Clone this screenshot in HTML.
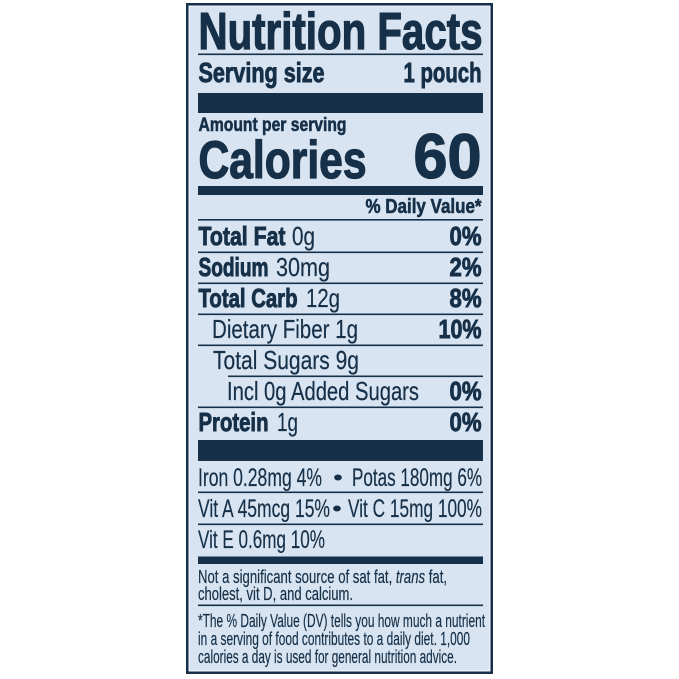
<!DOCTYPE html>
<html>
<head>
<meta charset="utf-8">
<style>
html,body{margin:0;padding:0;background:#ffffff;}
svg{display:block;}
text{font-family:"Liberation Sans",Arial,sans-serif;fill:#163049;}
.b{font-weight:bold;stroke:#163049;stroke-width:0.6;}
.b2{font-weight:bold;stroke:#163049;stroke-width:1.3;}
.b3{font-weight:bold;stroke:#163049;stroke-width:0.9;}
.r{stroke:#163049;stroke-width:0.2;}
</style>
</head>
<body>
<svg width="679" height="679" viewBox="0 0 679 679" xmlns="http://www.w3.org/2000/svg">
  <rect x="0" y="0" width="679" height="679" fill="#ffffff"/>
  <!-- border -->
  <rect x="186" y="3" width="307" height="671" fill="#163049"/>
  <rect x="188.5" y="5.5" width="302" height="666" fill="#e9f0f7"/>
  <rect x="190" y="7" width="299" height="663" fill="#d8e4f1"/>

  <!-- header -->
  <text class="b2" x="198.5" y="49" font-size="52" textLength="284" lengthAdjust="spacingAndGlyphs">Nutrition Facts</text>
  <rect x="198" y="53.5" width="285" height="1.6" fill="#163049"/>
  <text class="b3" x="198.5" y="82" font-size="28" textLength="126" lengthAdjust="spacingAndGlyphs">Serving size</text>
  <text class="b3" x="403.5" y="82" font-size="28" textLength="78" lengthAdjust="spacingAndGlyphs">1 pouch</text>
  <rect x="198" y="93" width="285" height="20" fill="#163049"/>
  <text class="b" x="198.5" y="131" font-size="19.5" textLength="148" lengthAdjust="spacingAndGlyphs">Amount per serving</text>
  <text class="b2" x="198.5" y="178" font-size="53" textLength="168" lengthAdjust="spacingAndGlyphs">Calories</text>
  <text class="b2" x="413.5" y="178" font-size="63" textLength="68" lengthAdjust="spacingAndGlyphs">60</text>
  <rect x="198" y="186" width="285" height="9" fill="#163049"/>
  <text class="b" x="365.5" y="213" font-size="20" textLength="116" lengthAdjust="spacingAndGlyphs">% Daily Value*</text>
  <rect x="198" y="219" width="285" height="1.6" fill="#163049"/>

  <!-- rows -->
  <text class="b3" x="198.5" y="245" font-size="26" textLength="87" lengthAdjust="spacingAndGlyphs">Total Fat</text>
  <text class="r" x="292" y="245" font-size="26" textLength="23" lengthAdjust="spacingAndGlyphs">0g</text>
  <text class="b3" x="449.5" y="245" font-size="26" textLength="32" lengthAdjust="spacingAndGlyphs">0%</text>
  <rect x="198" y="251.5" width="285" height="1.6" fill="#163049"/>

  <text class="b3" x="198.5" y="276" font-size="26" textLength="70" lengthAdjust="spacingAndGlyphs">Sodium</text>
  <text class="r" x="276" y="276" font-size="26" textLength="54" lengthAdjust="spacingAndGlyphs">30mg</text>
  <text class="b3" x="449.5" y="276" font-size="26" textLength="32" lengthAdjust="spacingAndGlyphs">2%</text>
  <rect x="198" y="282.5" width="285" height="1.6" fill="#163049"/>

  <text class="b3" x="198.5" y="307" font-size="26" textLength="99" lengthAdjust="spacingAndGlyphs">Total Carb</text>
  <text class="r" x="306" y="307" font-size="26" textLength="34" lengthAdjust="spacingAndGlyphs">12g</text>
  <text class="b3" x="449.5" y="307" font-size="26" textLength="32" lengthAdjust="spacingAndGlyphs">8%</text>
  <rect x="198" y="313.5" width="285" height="1.6" fill="#163049"/>

  <text class="r" x="212" y="338" font-size="26" textLength="146" lengthAdjust="spacingAndGlyphs">Dietary Fiber 1g</text>
  <text class="b3" x="438.5" y="338" font-size="26" textLength="43" lengthAdjust="spacingAndGlyphs">10%</text>
  <rect x="198" y="344.5" width="285" height="1.6" fill="#163049"/>

  <text class="r" x="213" y="369" font-size="26" textLength="146" lengthAdjust="spacingAndGlyphs">Total Sugars 9g</text>
  <rect x="228" y="375.5" width="255" height="1.6" fill="#163049"/>

  <text class="r" x="227" y="400" font-size="26" textLength="192" lengthAdjust="spacingAndGlyphs">Incl 0g Added Sugars</text>
  <text class="b3" x="449.5" y="400" font-size="26" textLength="32" lengthAdjust="spacingAndGlyphs">0%</text>
  <rect x="198" y="406.5" width="285" height="1.6" fill="#163049"/>

  <text class="b3" x="198.5" y="431" font-size="26" textLength="70" lengthAdjust="spacingAndGlyphs">Protein</text>
  <text class="r" x="277" y="431" font-size="26" textLength="21" lengthAdjust="spacingAndGlyphs">1g</text>
  <text class="b3" x="449.5" y="431" font-size="26" textLength="32" lengthAdjust="spacingAndGlyphs">0%</text>
  <rect x="198" y="440" width="285" height="21" fill="#163049"/>

  <!-- vitamins -->
  <text class="r" x="198" y="486" font-size="25" textLength="124" lengthAdjust="spacingAndGlyphs">Iron 0.28mg 4%</text>
  <text x="333" y="485" font-size="22" textLength="10" lengthAdjust="spacingAndGlyphs">•</text>
  <text class="r" x="352" y="486" font-size="25" textLength="130" lengthAdjust="spacingAndGlyphs">Potas 180mg 6%</text>
  <rect x="198" y="491.5" width="285" height="1.6" fill="#163049"/>

  <text class="r" x="198" y="517" font-size="25" textLength="132" lengthAdjust="spacingAndGlyphs">Vit A 45mcg 15%</text>
  <text x="332" y="516" font-size="22" textLength="10" lengthAdjust="spacingAndGlyphs">•</text>
  <text class="r" x="348" y="517" font-size="25" textLength="134" lengthAdjust="spacingAndGlyphs">Vit C 15mg 100%</text>
  <rect x="198" y="523.5" width="285" height="1.6" fill="#163049"/>

  <text class="r" x="198" y="548" font-size="25" textLength="127" lengthAdjust="spacingAndGlyphs">Vit E 0.6mg 10%</text>
  <rect x="198" y="556.5" width="285" height="7.5" fill="#163049"/>

  <!-- footnotes -->
  <text class="r" x="198" y="583" font-size="18" textLength="249" lengthAdjust="spacingAndGlyphs">Not a significant source of sat fat, <tspan font-style="italic">trans</tspan> fat,</text>
  <text class="r" x="198" y="600" font-size="18" textLength="155" lengthAdjust="spacingAndGlyphs">cholest, vit D, and calcium.</text>
  <rect x="198" y="604.5" width="285" height="1.6" fill="#163049"/>
  <text class="r" x="198" y="627" font-size="18.5" textLength="287" lengthAdjust="spacingAndGlyphs">*The % Daily Value (DV) tells you how much a nutrient</text>
  <text class="r" x="198" y="645" font-size="18.5" textLength="272" lengthAdjust="spacingAndGlyphs">in a serving of food contributes to a daily diet. 1,000</text>
  <text class="r" x="198" y="663" font-size="18.5" textLength="259" lengthAdjust="spacingAndGlyphs">calories a day is used for general nutrition advice.</text>
</svg>
</body>
</html>
